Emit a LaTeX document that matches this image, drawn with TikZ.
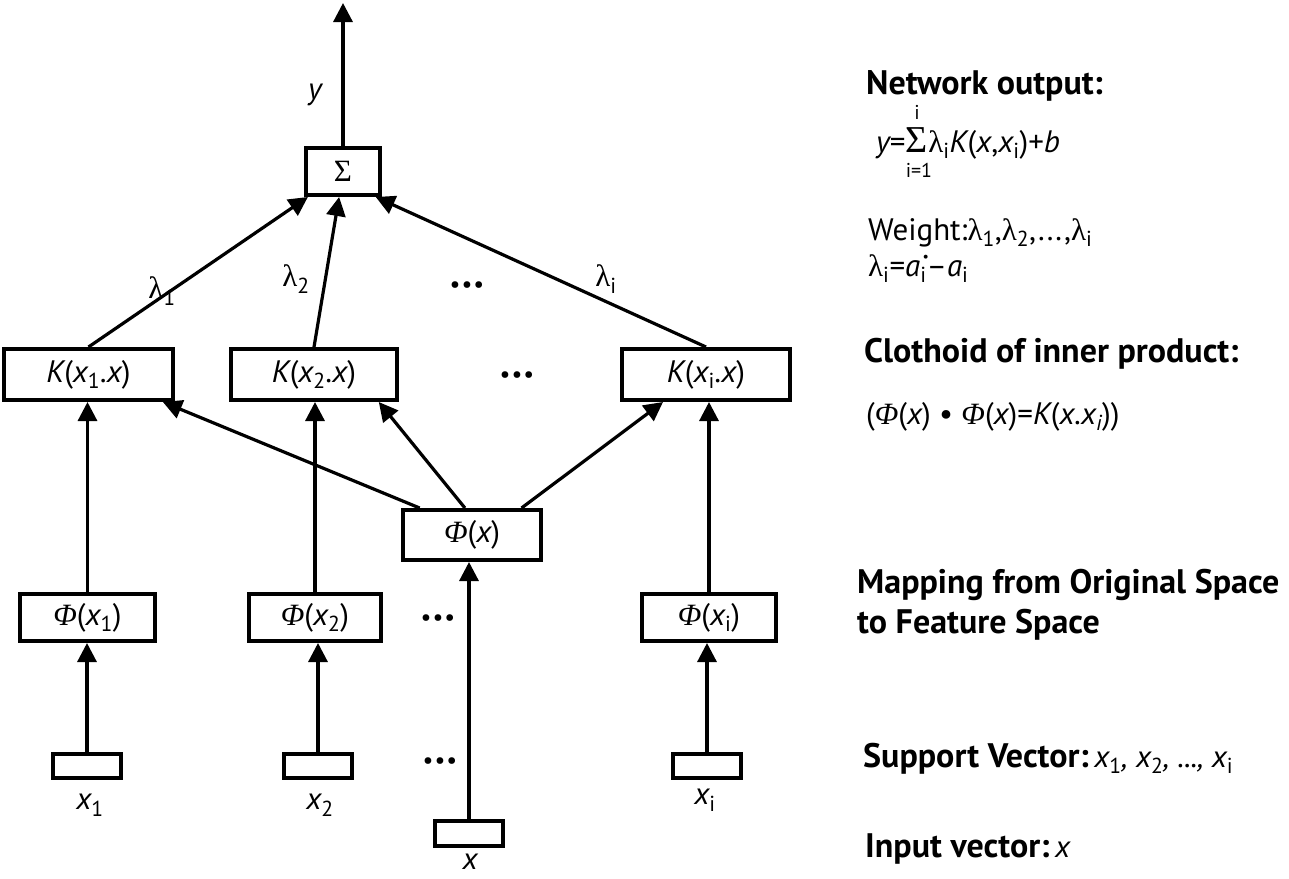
\documentclass[tikz,border=0pt]{standalone}
\usepackage{fontspec}
\setmainfont{PT Sans}
\newfontfamily\gk{Liberation Serif}
\usetikzlibrary{arrows.meta,calc}
\newcommand\fsA{\fontsize{31}{35}\selectfont}
\newcommand\fsH{\fontsize{34}{40}\selectfont}
\newcommand\fsB{\fontsize{20}{22}\selectfont}
\newcommand\sbx[1]{\textsubscript{\upshape #1}}
\newcommand\lmb{{\gk\upshape λ}}
\newcommand\Ph{{\gk\itshape Φ}}
\newcommand\dts{{\fontsize{24}{26}\selectfont •\hspace{1pt}•\hspace{1pt}•}}
\begin{document}
\begin{tikzpicture}[x=1pt,y=-1pt,
 box/.style={draw, line width=4pt, inner sep=0pt, font=\fsA},
 arr/.style={line width=3.2pt, -{Triangle[length=19pt,width=19pt]}},
 lbl/.style={inner sep=0pt, font=\fsA},
 hd/.style={inner sep=0pt, anchor=base west, font=\fsH\bfseries},
 txt/.style={inner sep=0pt, anchor=base west, font=\fsA},
]
\useasboundingbox[fill=white] (0,0) rectangle (1289,878);

% boxes
\node[box, minimum width=74, minimum height=47] (S) at (343,171.5) {\gk Σ};
\node[box, minimum width=169, minimum height=51] (K1) at (88.5,374.5) {\itshape K\upshape(\itshape x\sbx{1}.x\upshape)};
\node[box, minimum width=166.5, minimum height=51] (K2) at (314,374.5) {\itshape K\upshape(\itshape x\sbx{2}.x\upshape)};
\node[box, minimum width=168, minimum height=51] (Ki) at (706,374.5) {\itshape K\upshape(\itshape x\sbx{i}.x\upshape)};
\node[box, minimum width=137.5, minimum height=50] (Px) at (472,535) {\Ph\upshape(\itshape x\upshape)};
\node[box, minimum width=135, minimum height=47] (P1) at (87.5,617.5) {\Ph\upshape(\itshape x\sbx{1}\upshape)};
\node[box, minimum width=132, minimum height=47] (P2) at (315,617.5) {\Ph\upshape(\itshape x\sbx{2}\upshape)};
\node[box, minimum width=134, minimum height=47] (Pi) at (709,617.5) {\Ph\upshape(\itshape x\sbx{i}\upshape)};
\node[box, minimum width=68, minimum height=24] (X1) at (87,766) {};
\node[box, minimum width=68, minimum height=24] (X2) at (318,766) {};
\node[box, minimum width=68, minimum height=24] (Xi) at (707,766) {};
\node[box, minimum width=68, minimum height=25] (X) at (469,833) {};

% labels
\node[lbl] (ly) at (315,95) {\itshape y};
\coordinate (top) at (343,3);
\node[lbl] (l1) at (162,291) {\lmb\sbx{1}};
\node[lbl] (l2) at (296,279) {\lmb\sbx{2}};
\node[lbl] (ld) at (467,287) {\dts};
\node[lbl] (li) at (606,279) {\lmb\sbx{i}};
\node[lbl] (d1) at (517,377) {\dts};
\node[lbl] (d2) at (438,620) {\dts};
\node[lbl] (d3) at (440,763) {\dts};
\node[lbl] (lx1) at (90,805) {\itshape x\sbx{1}};
\node[lbl] (lx2) at (320,805) {\itshape x\sbx{2}};
\node[lbl] (lxi) at (705,800) {\itshape x\sbx{i}};
\node[lbl] (lx) at (470,862) {\itshape x};

% connectors
\draw[arr] (S.north) -- (top);
\draw[arr] (K1.north) -- ($(S.south west)!0.05!(S.south east)$);
\draw[arr] (K2.north) -- ($(S.south west)!0.45!(S.south east)$);
\draw[arr] (Ki.north) -- ($(S.south west)!0.92!(S.south east)$);
\draw[arr] ($(Px.north west)!0.13!(Px.north east)$) -- ($(K1.south west)!0.93!(K1.south east)$);
\draw[arr] ($(Px.north west)!0.45!(Px.north east)$) -- ($(K2.south west)!0.88!(K2.south east)$);
\draw[arr] ($(Px.north west)!0.85!(Px.north east)$) -- ($(Ki.south west)!0.25!(Ki.south east)$);
\draw[arr] (P1.north) -- (P1.north |- K1.south);
\draw[arr] (P2.north) -- (P2.north |- K2.south);
\draw[arr] (Pi.north) -- (Pi.north |- Ki.south);
\draw[arr] (X1.north) -- (X1.north |- P1.south);
\draw[arr] (X2.north) -- (X2.north |- P2.south);
\draw[arr] (Xi.north) -- (Xi.north |- Pi.south);
\draw[arr] (X.north) -- (X.north |- Px.south);

% right text
\node[hd] (h1) at (866,94) {Network output:};
\node[txt] (f1) at (876,152) {\itshape y\upshape=};
\node[txt, font=\fontsize{38}{40}\selectfont] (f2) at (f1.base east) {\gk Σ};
\node[txt] (f3) at (f2.base east) {\lmb\sbx{i}\itshape K\upshape(\itshape x\upshape,\itshape x\sbx{i}\upshape)+\itshape b};
\node[lbl, font=\fsB, anchor=base] (fu) at (f2.base |- 0,119) {i};
\node[lbl, font=\fsB, anchor=base] (fl) at ($(f2.base)+(2,25)$) {i=1};
\node[txt] (w1) at (868,240) {Weight:\lmb\sbx{1},\lmb\sbx{2},...,\lmb\sbx{i}};
\node[txt] (w2) at (868,276) {\lmb\sbx{i}=\itshape a\rlap{\raisebox{15pt}{\fontsize{14}{14}\selectfont\upshape\,•}}\sbx{i}\upshape–\itshape a\sbx{i}};
\node[hd] (h2) at (864,362) {Clothoid of inner product:};
\node[txt] (c1) at (866,424) {(\Ph(\itshape x\upshape) • \Ph(\itshape x\upshape)=\itshape K\upshape(\itshape x.x\sbx{\itshape i}\upshape))};
\node[hd] (h3) at (857,593) {Mapping from Original Space};
\node[hd] (h4) at (857,633) {to Feature Space};
\node[hd] (h5) at (863,767) {Support Vector:\,\fsA\mdseries\itshape x\sbx{1}, x\sbx{2}, ..., x\sbx{i}};
\node[hd] (h6) at (865,857) {Input vector:\,\fsA\mdseries\itshape x};
\end{tikzpicture}
\end{document}
